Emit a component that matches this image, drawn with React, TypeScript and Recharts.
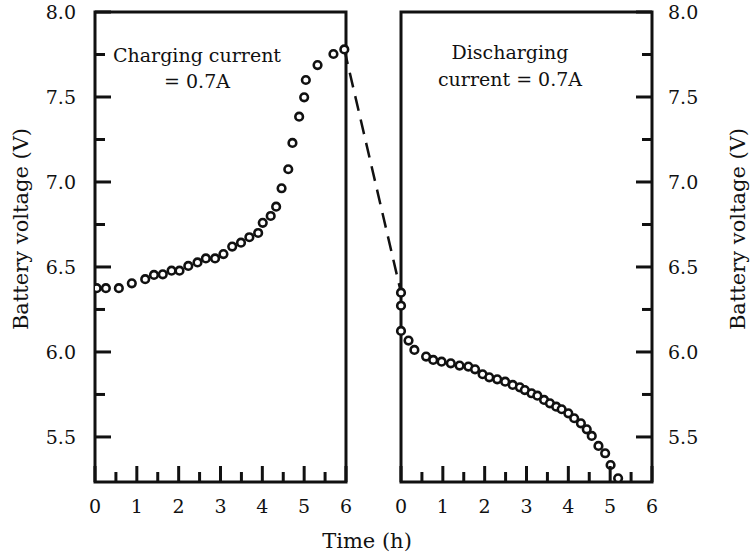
import React from 'react';
import { ComposedChart, Line, XAxis, YAxis, ReferenceArea } from 'recharts';

// charging run (h, V)
const chargeTime = [
  0.04, 0.26, 0.57, 0.88, 1.2, 1.41, 1.62, 1.83, 2.02, 2.23, 2.45, 2.65, 2.87, 3.07, 3.28,
  3.49, 3.69, 3.9, 4.01, 4.2, 4.33, 4.46, 4.62, 4.72, 4.88, 5.0, 5.04, 5.32, 5.7, 5.96,
];
const chargeVolt = [
  6.375, 6.375, 6.375, 6.404, 6.428, 6.453, 6.457, 6.478, 6.478, 6.506, 6.527, 6.55, 6.55,
  6.576, 6.62, 6.643, 6.675, 6.7, 6.76, 6.8, 6.855, 6.963, 7.075, 7.23, 7.384, 7.498, 7.6,
  7.688, 7.753, 7.78,
];

// discharging run (h, V)
const dischargeTime = [
  0, 0, 0, 0.18, 0.32, 0.6, 0.77, 0.97, 1.19, 1.4, 1.61, 1.77, 1.95, 2.11, 2.3, 2.49, 2.67,
  2.84, 2.96, 3.12, 3.26, 3.42, 3.56, 3.71, 3.84, 4.0, 4.14, 4.3, 4.44, 4.56, 4.72, 4.88,
  5.01, 5.19,
];
const dischargeVolt = [
  6.349, 6.272, 6.124, 6.067, 6.012, 5.973, 5.953, 5.943, 5.933, 5.92, 5.914, 5.898, 5.869,
  5.851, 5.839, 5.825, 5.806, 5.792, 5.776, 5.757, 5.743, 5.718, 5.698, 5.678, 5.663, 5.639,
  5.61, 5.58, 5.545, 5.506, 5.447, 5.404, 5.335, 5.257,
];

const hourTicks = [0, 1, 2, 3, 4, 5, 6];
const voltTicks = [5.5, 6.0, 6.5, 7.0, 7.5, 8.0];

const INK = '#111';
const FONT = '"DejaVu Serif", serif';
const FS = 19;
const TITLE_FS = 21;

// both panels share one x scale; the right one is shifted past a gap
const GAP = 1.315;
const SHIFT = 6 + GAP;
const X_MAX = 12 + GAP;
const V_MIN = 5.235;
const V_MAX = 8;

const chargeData = chargeTime.map((t, i) => ({ x: t, v: chargeVolt[i] }));
const dischargeData = dischargeTime.map((t, i) => ({ x: t + SHIFT, v: dischargeVolt[i] }));
const jumpData = [chargeData[chargeData.length - 1], dischargeData[0]];

const halfHours = hourTicks.flatMap((h) => (h < 6 ? [h, h + 0.5] : [h]));
const xTicks = [...halfHours, ...halfHours.map((h) => h + SHIFT)];
const yTicks = voltTicks.flatMap((v) => (v < 8 ? [v, v + 0.25] : [v]));

const XTick = (props: any) => {
  const { x, y, payload } = props;
  const t = Math.round((payload.value > 6.5 ? payload.value - SHIFT : payload.value) * 2) / 2;
  const major = Number.isInteger(t);
  return (
    <g>
      <line x1={x} x2={x} y1={y} y2={y - (major ? 16 : 10)} stroke={INK} strokeWidth={3} />
      {major && (
        <text x={x} y={y + 31} textAnchor="middle" fill={INK} fontFamily={FONT} fontSize={FS}>
          {t}
        </text>
      )}
    </g>
  );
};

const YTickLeft = (props: any) => {
  const { x, y, payload } = props;
  const v = payload.value;
  const major = Math.abs(v * 2 - Math.round(v * 2)) < 1e-6;
  return (
    <g>
      <line x1={x} x2={x + (major ? 16 : 10)} y1={y} y2={y} stroke={INK} strokeWidth={3} />
      {major && (
        <text x={x - 19} y={y} dy="0.36em" textAnchor="end" fill={INK} fontFamily={FONT} fontSize={FS}>
          {v.toFixed(1)}
        </text>
      )}
    </g>
  );
};

const YTickRight = (props: any) => {
  const { x, y, payload } = props;
  const v = payload.value;
  const major = Math.abs(v * 2 - Math.round(v * 2)) < 1e-6;
  return (
    <g>
      <line x1={x} x2={x - (major ? 16 : 10)} y1={y} y2={y} stroke={INK} strokeWidth={3} />
      {major && (
        <text x={x + 16} y={y} dy="0.36em" textAnchor="start" fill={INK} fontFamily={FONT} fontSize={FS}>
          {v.toFixed(1)}
        </text>
      )}
    </g>
  );
};

const Ring = (props: any) => {
  const { cx, cy } = props;
  if (cx == null || cy == null) return null;
  return <circle cx={cx} cy={cy} r={3.8} fill="#fff" stroke={INK} strokeWidth={2.6} />;
};

const App = () => {
  return (
    <div style={{ position: 'absolute', left: 0, top: 0, width: 750, height: 557, background: '#fff' }}>
      <ComposedChart width={750} height={557} margin={{ top: 12, right: 0, bottom: 0, left: 0 }}>
        <XAxis
          type="number"
          dataKey="x"
          domain={[0, X_MAX]}
          allowDataOverflow
          ticks={xTicks}
          interval={0}
          height={75}
          axisLine={false}
          tickLine={false}
          tickSize={0}
          tickMargin={0}
          tick={<XTick />}
        />
        <YAxis
          yAxisId="L"
          orientation="left"
          dataKey="v"
          domain={[V_MIN, V_MAX]}
          allowDataOverflow
          ticks={yTicks}
          interval={0}
          width={95}
          axisLine={false}
          tickLine={false}
          tickSize={0}
          tickMargin={0}
          tick={<YTickLeft />}
        />
        <YAxis
          yAxisId="R"
          orientation="right"
          domain={[V_MIN, V_MAX]}
          allowDataOverflow
          ticks={yTicks}
          interval={0}
          width={98}
          axisLine={false}
          tickLine={false}
          tickSize={0}
          tickMargin={0}
          tick={<YTickRight />}
        />
        <ReferenceArea yAxisId="L" x1={0} x2={6} y1={V_MIN} y2={V_MAX} fill="none" fillOpacity={0} stroke={INK} strokeWidth={3} />
        <ReferenceArea yAxisId="L" x1={SHIFT} x2={X_MAX} y1={V_MIN} y2={V_MAX} fill="none" fillOpacity={0} stroke={INK} strokeWidth={3} />
        <Line
          yAxisId="L"
          data={jumpData}
          dataKey="v"
          stroke={INK}
          strokeWidth={2.5}
          strokeDasharray="15 9"
          dot={false}
          isAnimationActive={false}
        />
        <Line yAxisId="L" data={chargeData} dataKey="v" stroke="none" dot={<Ring />} isAnimationActive={false} />
        <Line yAxisId="L" data={dischargeData} dataKey="v" stroke="none" dot={<Ring />} isAnimationActive={false} />
      </ComposedChart>
      <svg width={750} height={557} style={{ position: 'absolute', left: 0, top: 0, pointerEvents: 'none' }}>
        <g fill={INK} fontFamily={FONT} fontSize={FS} textAnchor="middle">
          <text x={197} y={62}>Charging current</text>
          <text x={197} y={88}>= 0.7A</text>
          <text x={510} y={59}>Discharging</text>
          <text x={510} y={86}>current = 0.7A</text>
        </g>
        <g fill={INK} fontFamily={FONT} fontSize={TITLE_FS} textAnchor="middle">
          <text x={367} y={548}>Time (h)</text>
          <text transform="translate(28,229) rotate(-90)">Battery voltage (V)</text>
          <text transform="translate(745,229) rotate(-90)">Battery voltage (V)</text>
        </g>
      </svg>
    </div>
  );
};

export default App;
